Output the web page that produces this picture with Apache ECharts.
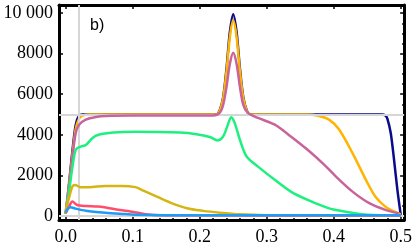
<!DOCTYPE html>
<html><head><meta charset="utf-8">
<script src="https://cdn.jsdelivr.net/npm/echarts@6/dist/echarts.min.js"></script>
<style>html,body{margin:0;padding:0;background:#fff}#c{width:415px;height:248px}</style>
</head><body><div id="c"></div>
<script>
const seriesNames = ['navy','orange','mauve','green','olive','red','blue'];
const seriesColors = ['#0a0a8c','#ffb400','#c8649a','#1ef07f','#d4b514','#ff4d6a','#1e9cf5'];
const navyData = [[0,100],[0.005,1600],[0.01,3200],[0.015,4500],[0.02,4950],[0.025,5000],[0.1,5000],[0.2,5000],[0.225,5000],[0.23,5220],[0.235,5850],[0.24,7270],[0.245,9070],[0.25,9950],[0.255,9070],[0.26,7270],[0.265,5850],[0.27,5220],[0.275,5000],[0.4,5000],[0.472,5000],[0.477,4950],[0.48,4800],[0.485,4100],[0.49,2770],[0.495,1290],[0.5,50]];
const orangeData = [[0,100],[0.005,1500],[0.01,3000],[0.015,4300],[0.02,4800],[0.025,4950],[0.035,5000],[0.225,5000],[0.23,5200],[0.235,5800],[0.24,7130],[0.245,8830],[0.25,9650],[0.255,8830],[0.26,7130],[0.265,5800],[0.27,5200],[0.275,5000],[0.36,5000],[0.375,4950],[0.393,4750],[0.408,4260],[0.428,3100],[0.448,1780],[0.462,960],[0.477,460],[0.49,220],[0.5,80]];
const mauveData = [[0,100],[0.005,1400],[0.01,2900],[0.015,4100],[0.02,4500],[0.03,4750],[0.045,4880],[0.06,4930],[0.1,4950],[0.22,4950],[0.23,5090],[0.235,5480],[0.24,6370],[0.245,7500],[0.25,8050],[0.255,7500],[0.26,6370],[0.265,5480],[0.272,5080],[0.287,4830],[0.312,4500],[0.336,3920],[0.361,3260],[0.386,2520],[0.403,1950],[0.428,1200],[0.453,630],[0.477,300],[0.497,130]];
const greenData = [[0,100],[0.005,1200],[0.01,2400],[0.015,3260],[0.022,3420],[0.03,3500],[0.04,3840],[0.049,4000],[0.071,4110],[0.104,4150],[0.171,4110],[0.195,4030],[0.215,3890],[0.227,3720],[0.235,3920],[0.242,4500],[0.247,4870],[0.252,4600],[0.26,3750],[0.27,2930],[0.287,2430],[0.312,1780],[0.336,1200],[0.361,790],[0.386,460],[0.398,330],[0.427,160],[0.45,60],[0.5,20]];
const oliveData = [[0,300],[0.005,900],[0.01,1450],[0.014,1530],[0.022,1420],[0.035,1420],[0.059,1480],[0.084,1480],[0.104,1420],[0.116,1250],[0.136,950],[0.156,660],[0.181,380],[0.205,250],[0.23,160],[0.26,80],[0.3,40],[0.5,20]];
const redData = [[0,150],[0.005,460],[0.01,710],[0.017,540],[0.03,490],[0.049,460],[0.074,330],[0.099,210],[0.12,80],[0.14,30],[0.5,20]];
const blueData = [[0,210],[0.007,430],[0.015,360],[0.03,260],[0.059,160],[0.084,100],[0.104,60],[0.15,40],[0.5,35]];
const allData = [navyData, orangeData, mauveData, greenData, oliveData, redData, blueData];
const refLineY = [0, 5000];
const refLineX = [0.017];
const xRange = [-0.01, 0.505];
const yRange = [-200, 10400];

const chart = echarts.init(document.getElementById('c'), null, {renderer:'canvas'});
const frame = {show:true, onZero:false, lineStyle:{color:'#000', width:3}};
const tick = {show:true, inside:true, length:4, lineStyle:{color:'#000', width:1.5}};
const minor = (n)=>({show:true, splitNumber:n, length:2, lineStyle:{color:'#000', width:1.5}});
const fontFam = '"Liberation Serif", "DejaVu Serif", serif';
const series = allData.map((d,i)=>({
  name: seriesNames[i], type:'line', data:d, symbol:'none', smooth:0.3,
  lineStyle:{color:seriesColors[i], width:2.5}, z:3+i, silent:true
}));
series.unshift({
  type:'line', data:refLineX.map(x=>[x, refLineY[1]]), symbol:'none', lineStyle:{opacity:0}, silent:true, z:1,
  markLine:{silent:true, symbol:'none', label:{show:false}, animation:false,
    lineStyle:{color:'#d6d6d6', width:2, type:'solid'},
    data: refLineY.map(v=>({yAxis:v})).concat(refLineX.map(v=>({xAxis:v})))}
});
chart.setOption({
  animation:false,
  grid:{left:59, right:10, top:5, bottom:28, containLabel:false},
  xAxis:[{
    type:'value', min:xRange[0], max:xRange[1], minInterval:0.1, maxInterval:0.1,
    axisLine:frame, axisTick:tick, minorTick:minor(5), splitLine:{show:false},
    axisLabel:{margin:8, color:'#000', fontSize:18, fontFamily:fontFam,
      formatter:v=> Math.abs(v*10-Math.round(v*10))<1e-6 ? v.toFixed(1) : ''}
  },{
    type:'value', position:'top', min:xRange[0], max:xRange[1], minInterval:0.1, maxInterval:0.1,
    axisLine:frame, axisTick:tick, minorTick:minor(5), splitLine:{show:false}, axisLabel:{show:false}
  }],
  yAxis:[{
    type:'value', min:yRange[0], max:yRange[1], minInterval:2000, maxInterval:2000,
    axisLine:frame, axisTick:tick, minorTick:minor(4), splitLine:{show:false},
    axisLabel:{margin:6, color:'#000', fontSize:18, fontFamily:fontFam,
      formatter:v=> (v%2000===0 && v>=0) ? (v>=10000 ? '10 000' : String(v)) : ''}
  },{
    type:'value', position:'right', min:yRange[0], max:yRange[1], minInterval:2000, maxInterval:2000,
    axisLine:frame, axisTick:tick, minorTick:minor(4), splitLine:{show:false}, axisLabel:{show:false}
  }],
  graphic:[{type:'text', left:90, top:18, style:{text:'b)', font:'16px "Liberation Sans", Arial, sans-serif', fill:'#000'}}],
  series: series
});
</script></body></html>
